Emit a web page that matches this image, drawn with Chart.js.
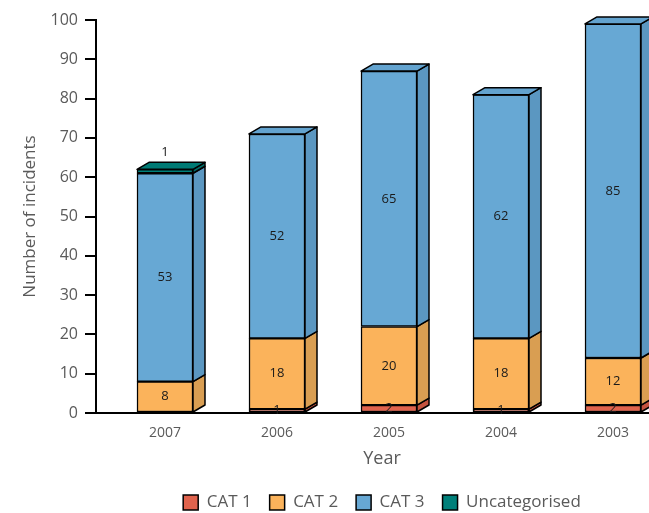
<!DOCTYPE html>
<html>
<head>
<meta charset="utf-8">
<script src="https://cdn.jsdelivr.net/npm/chart.js@4/dist/chart.umd.min.js"></script>
<style>
  html, body { margin: 0; padding: 0; background: #fff; }
  #wrap { width: 649px; height: 513px; overflow: hidden; position: relative; }
  canvas { display: block; }
</style>
</head>
<body>
<div id="wrap"><canvas id="chart" width="680" height="513"></canvas></div>
<script>
// Incidents per year, split by category
const years = ['2007', '2006', '2005', '2004', '2003'];
const cat1 = [0, 1, 2, 1, 2];
const cat2 = [8, 18, 20, 18, 12];
const cat3 = [53, 52, 65, 62, 85];
const uncategorised = [1, 0, 0, 0, 0];
const yTicks = [0, 10, 20, 30, 40, 50, 60, 70, 80, 90, 100];

const FONT = "'Open Sans', 'Noto Sans', sans-serif";
const GREY = '#5a5a5a';

// front / side / top shades for each series
const shades = [
  { front: '#e0634d', side: '#c4533f', top: '#d95d48' },
  { front: '#fbb35b', side: '#d99e52', top: '#f2ab56' },
  { front: '#67a8d4', side: '#5b97c1', top: '#63a3cf' },
  { front: '#00807a', side: '#006c67', top: '#007a74' }
];

const DEPTH_X = 12, DEPTH_Y = 7;

// extrudes each stacked segment into a box: right face for every segment,
// top face only on the highest segment of a stack
const boxFaces = {
  id: 'boxFaces',
  afterDatasetsDraw(chart) {
    const ctx = chart.ctx;
    ctx.save();
    ctx.lineWidth = 1.5;
    ctx.strokeStyle = '#000';
    ctx.lineJoin = 'round';
    for (let i = 0; i < years.length; i++) {
      let top = null;
      chart.data.datasets.forEach((ds, d) => {
        const meta = chart.getDatasetMeta(d);
        if (!chart.isDatasetVisible(d) || !ds.data[i]) return;
        const el = meta.data[i];
        const { x, y, base, width } = el.getProps(['x', 'y', 'base', 'width'], true);
        const r = x + width / 2;
        ctx.beginPath();
        ctx.moveTo(r, y);
        ctx.lineTo(r + DEPTH_X, y - DEPTH_Y);
        ctx.lineTo(r + DEPTH_X, base - DEPTH_Y);
        ctx.lineTo(r, base);
        ctx.closePath();
        ctx.fillStyle = shades[d].side;
        ctx.fill();
        ctx.stroke();
        top = { x, y, width, d };
      });
      if (top) {
        const l = top.x - top.width / 2, r = top.x + top.width / 2;
        ctx.beginPath();
        ctx.moveTo(l, top.y);
        ctx.lineTo(l + DEPTH_X, top.y - DEPTH_Y);
        ctx.lineTo(r + DEPTH_X, top.y - DEPTH_Y);
        ctx.lineTo(r, top.y);
        ctx.closePath();
        ctx.fillStyle = shades[top.d].top;
        ctx.fill();
        ctx.stroke();
      }
    }
    ctx.restore();
  }
};

// value captions: centred on each segment, uncategorised above the stack
const valueLabels = {
  id: 'valueLabels',
  afterDatasetsDraw(chart) {
    const ctx = chart.ctx;
    ctx.save();
    ctx.font = '13px ' + FONT;
    ctx.fillStyle = '#1a1a1a';
    ctx.textAlign = 'center';
    ctx.textBaseline = 'middle';
    chart.data.datasets.forEach((ds, d) => {
      if (!chart.isDatasetVisible(d)) return;
      const meta = chart.getDatasetMeta(d);
      ds.data.forEach((v, i) => {
        if (!v) return;
        const { x, y, base } = meta.data[i].getProps(['x', 'y', 'base'], true);
        const ty = d === 3 ? y - DEPTH_Y - 10 : (y + base) / 2;
        ctx.fillText(String(v), x, ty);
      });
    });
    ctx.restore();
  }
};

const seriesNames = ['CAT 1', 'CAT 2', 'CAT 3', 'Uncategorised'];
const seriesData = [cat1, cat2, cat3, uncategorised];

new Chart(document.getElementById('chart'), {
  type: 'bar',
  data: {
    labels: years,
    datasets: seriesData.map((vals, d) => ({
      label: seriesNames[d],
      data: vals,
      backgroundColor: shades[d].front,
      borderColor: '#000',
      borderWidth: 1.5,
      borderSkipped: false,
      barThickness: 56
    }))
  },
  options: {
    responsive: false,
    animation: false,
    events: [],
    layout: { padding: { top: 20, right: 12, left: 0, bottom: -8 } },
    plugins: {
      tooltip: { enabled: false },
      legend: {
        position: 'bottom',
        fullSize: false,
        labels: {
          boxWidth: 15,
          boxHeight: 15,
          padding: 18,
          color: GREY,
          font: { family: FONT, size: 17 }
        }
      }
    },
    scales: {
      x: {
        stacked: true,
        grid: { display: false, drawTicks: false },
        border: { display: true, color: '#000', width: 2 },
        ticks: { color: GREY, padding: 12, font: { family: FONT, size: 14 } },
        title: {
          display: true, text: 'Year', color: GREY,
          font: { family: FONT, size: 18 }, padding: { top: 0, bottom: 6 }
        },
        afterFit(scale) { scale.height = 63; },
        afterBuildTicks(scale) {
          // category slots of equal width, first slot set in from the axis
          scale._startValue = -0.616;
          scale._valueRange = 5.107;
        }
      },
      y: {
        stacked: true,
        min: 0,
        max: 100,
        afterBuildTicks(scale) { scale.ticks = yTicks.map(v => ({ value: v })); },
        grid: {
          display: true, drawOnChartArea: false, drawTicks: true,
          tickLength: 11, color: '#000', lineWidth: 2
        },
        border: { display: true, color: '#000', width: 2 },
        ticks: { color: GREY, padding: 7, font: { family: FONT, size: 16 } },
        title: {
          display: true, text: 'Number of incidents', color: GREY,
          font: { family: FONT, size: 17 }, padding: { top: 20, bottom: 0 }
        },
        afterFit(scale) { scale.width = 96; }
      }
    }
  },
  plugins: [boxFaces, valueLabels]
});
</script>
</body>
</html>
